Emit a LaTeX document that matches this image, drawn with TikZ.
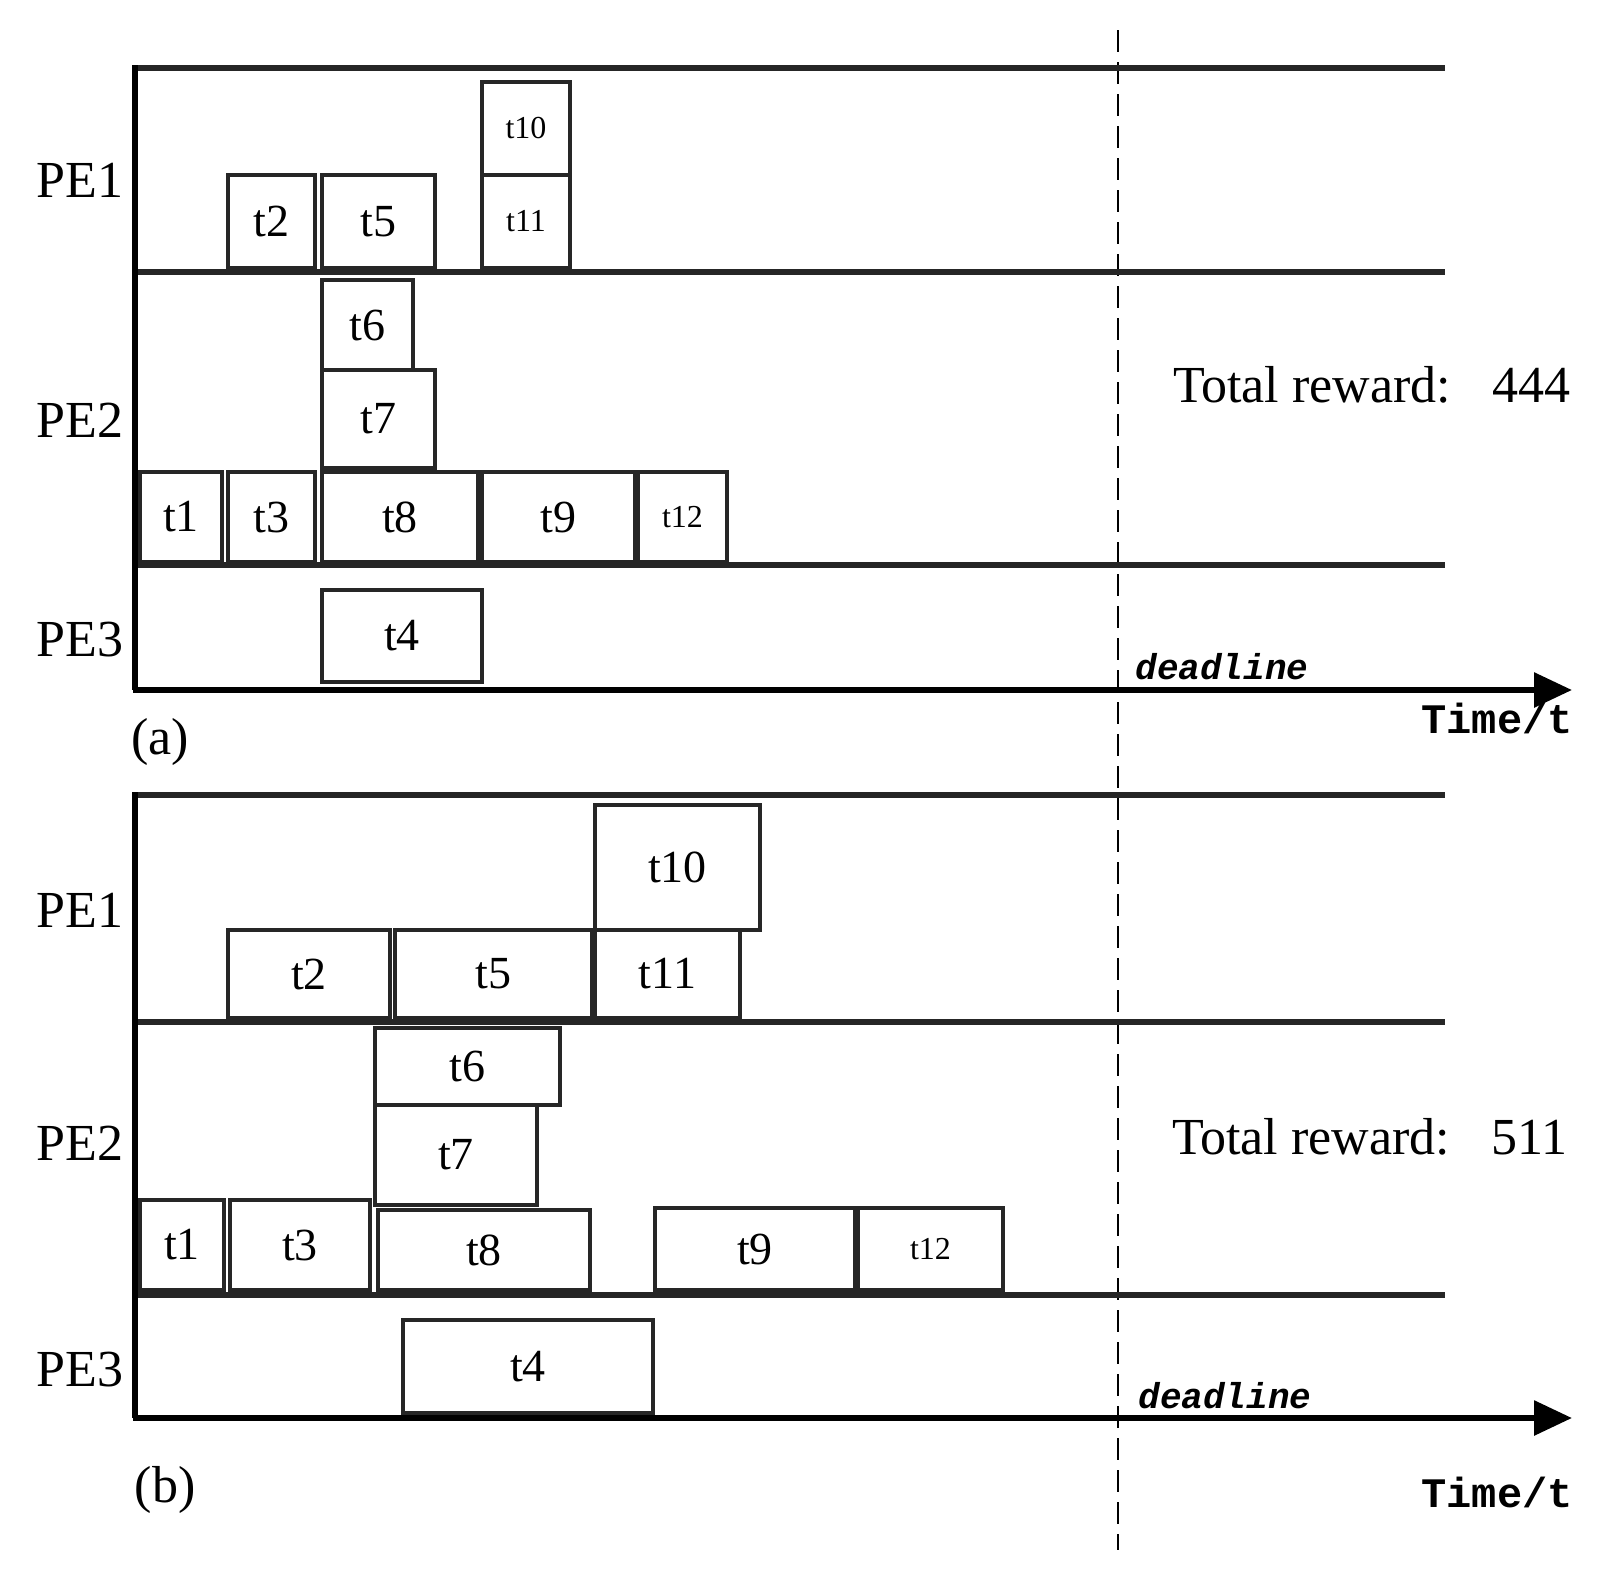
\documentclass[tikz,border=0pt]{standalone}
\usepackage{fontspec}
\setmainfont{Liberation Serif}
\newfontfamily\monofnt{Liberation Mono}
\usetikzlibrary{arrows.meta}
\begin{document}
\begin{tikzpicture}[x=1pt,y=-1pt,
 lane/.style={line width=6pt,draw=black!85},
 box/.style={draw=black!85,line width=4.5pt},
 pe/.style={font=\fontsize{52}{56}\selectfont},
 tl/.style={font=\fontsize{46}{50}\selectfont},
 ts/.style={font=\fontsize{32}{36}\selectfont},
 rw/.style={font=\fontsize{52}{56}\selectfont,anchor=center},
 dl/.style={font=\monofnt\bfseries\itshape\fontsize{36}{40}\selectfont},
 tm/.style={font=\monofnt\bfseries\fontsize{42}{46}\selectfont}]
\useasboundingbox (0,0) rectangle (1615,1588);
\newcommand\bx[6]{\draw[box] (#2,#4) rectangle (#3,#5); \node[#6] (#1) at ({(#2+#3)/2},{(#4+#5)/2}) {#1};}
% dashed deadline
\draw[dashed,line width=2.5pt,dash pattern=on 22pt off 10pt] (1118,30) coordinate (d1) -- (1118,1550) coordinate (d2);
% ---------- (a)
\draw[lane] (135,68) -- (1445,68);
\draw[lane] (135,272) -- (1445,272);
\draw[lane] (135,565) -- (1445,565);
\draw[line width=6pt] (135,65) -- (135,690);
\draw[line width=6pt,-{Triangle[length=38pt,width=34pt]}] (133,690) -- (1572,690);
\node[pe] (pa1) at (80,180) {PE1};
\node[pe] (pa2) at (80,420) {PE2};
\node[pe] (pa3) at (80,640) {PE3};
\bx{t10}{482}{570}{82}{175}{ts}
\bx{t11}{482}{570}{175}{268}{ts}
\bx{t2}{228}{315}{175}{268}{tl}
\bx{t5}{322}{435}{175}{268}{tl}
\bx{t6}{322}{413}{280}{370}{tl}
\bx{t7}{322}{435}{370}{468}{tl}
\bx{t1}{140}{222}{472}{562}{tl}
\bx{t3}{228}{315}{472}{562}{tl}
\bx{t8}{322}{478}{472}{562}{tl}
\bx{t9}{482}{635}{472}{562}{tl}
\bx{t12}{638}{727}{472}{562}{ts}
\bx{t4}{322}{482}{590}{682}{tl}
\node[rw] (ra) at (1372,385) {Total reward:\hspace{0.8em}444};
\node[dl] (da) at (1222,667) {deadline};
\node[tm] (xa) at (1497,718) {Time/t};
\node[pe] (la) at (160,742) {(a)};
% ---------- (b)
\draw[lane] (135,795) -- (1445,795);
\draw[lane] (135,1022) -- (1445,1022);
\draw[lane] (135,1295) -- (1445,1295);
\draw[line width=6pt] (135,792) -- (135,1418);
\draw[line width=6pt,-{Triangle[length=38pt,width=34pt]}] (133,1418) -- (1572,1418);
\node[pe] (pb1) at (80,910) {PE1};
\node[pe] (pb2) at (80,1143) {PE2};
\node[pe] (pb3) at (80,1370) {PE3};
\bx{t10}{595}{760}{805}{930}{tl}
\bx{t2}{228}{390}{930}{1018}{tl}
\bx{t5}{395}{592}{930}{1018}{tl}
\bx{t11}{595}{740}{930}{1018}{tl}
\bx{t6}{375}{560}{1028}{1105}{tl}
\bx{t7}{375}{537}{1105}{1205}{tl}
\bx{t1}{140}{224}{1200}{1290}{tl}
\bx{t3}{230}{370}{1200}{1290}{tl}
\bx{t8}{378}{590}{1210}{1290}{tl}
\bx{t9}{655}{855}{1208}{1290}{tl}
\bx{t12}{858}{1003}{1208}{1290}{ts}
\bx{t4}{403}{653}{1320}{1413}{tl}
\node[rw] (rb) at (1370,1137) {Total reward:\hspace{0.8em}511};
\node[dl] (db) at (1225,1396) {deadline};
\node[tm] (xb) at (1497,1492) {Time/t};
\node[pe] (lb) at (165,1490) {(b)};
\end{tikzpicture}
\end{document}
